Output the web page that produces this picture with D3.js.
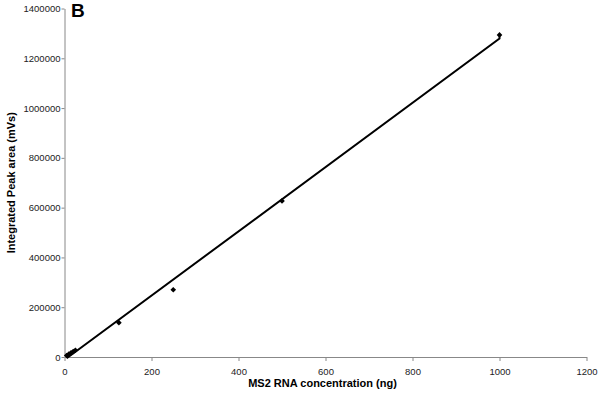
<!DOCTYPE html>
<html>
<head>
<meta charset="utf-8">
<script src="https://cdn.jsdelivr.net/npm/d3@7"></script>
<style>
  html, body { margin: 0; padding: 0; background: #fff; }
  svg { display: block; font-family: "Liberation Sans", Arial, sans-serif; }
</style>
</head>
<body>
<svg id="chart" width="600" height="400"></svg>
<script>
// Data
const concentration = [5, 10, 15, 20, 25, 125, 250, 500, 1000];       // ng
const peakArea      = [6000, 12000, 17000, 22000, 27000, 138000, 270000, 627000, 1294000]; // mVs
const xTicks = [0, 200, 400, 600, 800, 1000, 1200];
const yTicks = [0, 200000, 400000, 600000, 800000, 1000000, 1200000, 1400000];
const panelLabel = "B";
const xTitle = "MS2 RNA concentration (ng)";
const yTitle = "Integrated Peak area (mVs)";

(function () {
const svg = d3.select("#chart");
const mLeft = 64.5, mRight = 586.5, mTop = 8.5, mBottom = 357;

const x = d3.scaleLinear().domain([0, 1200]).range([mLeft, mRight]);
const y = d3.scaleLinear().domain([0, 1400000]).range([mBottom, mTop]);

// Linear regression (trendline)
const n = concentration.length;
const mx = d3.mean(concentration), my = d3.mean(peakArea);
let sxy = 0, sxx = 0;
for (let i = 0; i < n; i++) {
  sxy += (concentration[i] - mx) * (peakArea[i] - my);
  sxx += (concentration[i] - mx) ** 2;
}
const slope = sxy / sxx, intercept = my - slope * mx;
const xMin = d3.min(concentration), xMax = d3.max(concentration);
const trend = [
  [xMin, intercept + slope * xMin],
  [xMax, intercept + slope * xMax],
  [xMax, peakArea[n - 1]]
];

// Axes
const xAxis = svg.append("g").attr("transform", `translate(0,${mBottom})`)
  .call(d3.axisBottom(x).tickValues(xTicks).tickSize(4).tickSizeOuter(0).tickFormat(d3.format("d")));
const yAxis = svg.append("g").attr("transform", `translate(${mLeft},0)`)
  .call(d3.axisLeft(y).tickValues(yTicks).tickSize(3).tickSizeOuter(0).tickFormat(d3.format("d")));

[xAxis, yAxis].forEach(g => {
  g.select(".domain").attr("stroke", "#888").attr("stroke-width", 1);
  g.selectAll(".tick line").attr("stroke", "#888");
  g.selectAll(".tick text").attr("fill", "#222").attr("font-size", 9.5)
    .attr("font-family", "Liberation Sans, Arial, sans-serif");
});
xAxis.selectAll(".tick text").attr("dy", "0").attr("y", 18);
yAxis.selectAll(".tick text").attr("x", -4);

// Trendline
svg.append("path")
  .datum(trend)
  .attr("fill", "none")
  .attr("stroke", "#000")
  .attr("stroke-width", 2)
  .attr("d", d3.line().x(d => x(d[0])).y(d => y(d[1])));

// Points (diamonds: squares rotated 45°)
svg.append("g").selectAll("path")
  .data(concentration.map((c, i) => [c, peakArea[i]]))
  .join("path")
  .attr("transform", d => `translate(${x(d[0])},${y(d[1])}) rotate(45)`)
  .attr("d", d3.symbol().type(d3.symbolSquare).size(16))
  .attr("fill", "#000");

// Titles
svg.append("text")
  .attr("x", (mLeft + mRight) / 2 - 3).attr("y", 387)
  .attr("text-anchor", "middle")
  .attr("font-size", 11).attr("font-weight", "bold")
  .text(xTitle);

svg.append("text")
  .attr("transform", `translate(15,${(mTop + mBottom) / 2}) rotate(-90)`)
  .attr("text-anchor", "middle")
  .attr("font-size", 11).attr("font-weight", "bold")
  .text(yTitle);

svg.append("text")
  .attr("x", 71).attr("y", 17)
  .attr("font-size", 19).attr("font-weight", "bold")
  .text(panelLabel);
})();
</script>
</body>
</html>
